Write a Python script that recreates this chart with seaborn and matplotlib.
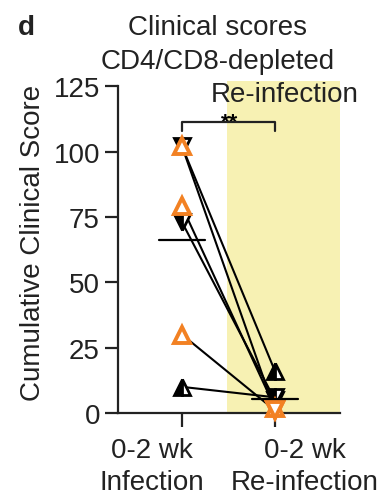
import matplotlib
matplotlib.use("Agg")
import matplotlib.pyplot as plt
import matplotlib.transforms as mtransforms
import numpy as np
import pandas as pd
import seaborn as sns

# ---- data ----
mice = ["m1", "m2", "m3", "m4", "m5", "m6"]
infection = [102, 102, 79, 73, 30, 10]
reinfection = [1, 16, 2, 5, 1, 6]
groups = ["orange", "black", "orange", "black", "orange", "black"]
phase_labels = ["0-2 wk\nInfection", "0-2 wk\nRe-infection"]
y_ticks = [0, 25, 50, 75, 100, 125]
title_lines = ["Clinical scores", "CD4/CD8-depleted"]
shade_label = "Re-infection"
sig_label = "**"
panel_letter = "d"
ylabel = "Cumulative Clinical Score"

# styles
inf_markers = ["^", "v", "^", "v", "^", "^"]
re_markers = ["v", "^", "^", "v", "v", "v"]
ORANGE = "#F28123"
YELLOW = "#F7F1B3"

sns.set_theme(style="ticks")
plt.rcParams["font.family"] = ["Liberation Sans", "DejaVu Sans"]
FS = 20

df = pd.DataFrame({
    "mouse": mice * 2,
    "pos": [0] * len(mice) + [1] * len(mice),
    "score": infection + reinfection,
})

fig = plt.figure(figsize=(3.81, 5.02), dpi=100)
ax = fig.add_axes([0.3097, 0.1753, 0.8924 - 0.3097, 0.8367 - 0.1753])

ax.axvspan(0.484, 1.699, color=YELLOW, zorder=0, lw=0)

sns.lineplot(data=df, x="pos", y="score", units="mouse", estimator=None,
             color="black", lw=1.5, ax=ax, legend=False, zorder=2)

for i in range(len(mice)):
    for pos, val, mk in ((0, infection[i], inf_markers[i]), (1, reinfection[i], re_markers[i])):
        if groups[i] == "orange":
            ax.plot(pos, val, marker=mk, ms=12, mfc="white", mec=ORANGE, mew=2.8,
                    ls="none", zorder=4, clip_on=False)
        else:
            ax.plot(pos, val, marker=mk, ms=12, mfc="black", mfcalt="white",
                    fillstyle="left", mec="black", mew=2.0, ls="none", zorder=3,
                    clip_on=False)

# mean lines
for pos, vals in ((0, infection), (1, reinfection)):
    m = np.mean(vals)
    ax.plot([pos - 0.25, pos + 0.25], [m, m], color="black", lw=1.6, zorder=5)

# significance bracket
ax.plot([0, 0, 1, 1], [107.8, 111.2, 111.2, 107.8], color="#222222", lw=1.6,
        clip_on=False, zorder=5)
ax.text(0.516, 109.3, sig_label, ha="center", va="baseline", fontsize=16,
        color="black", fontweight="bold")

ax.text(1.108, 119.3, shade_label, ha="center", va="baseline", fontsize=FS,
        color="#222222", clip_on=False)

ax.set_xlim(-0.688, 1.699)
ax.set_ylim(0, 127)
ax.set_yticks(y_ticks)
ax.set_yticklabels([str(t) for t in y_ticks], fontsize=FS, color="#222222")
ax.set_xticks([0, 1])
ax.set_xticklabels(phase_labels, fontsize=FS, color="#222222", linespacing=1.3)
ax.set_xlabel("")
ax.set_ylabel(ylabel, fontsize=FS, color="#222222")
ax.yaxis.set_label_coords(-0.325, 0.515)

ax.spines["top"].set_visible(False)
ax.spines["right"].set_visible(False)
ax.spines["left"].set_bounds(0, 125)
for s in ("left", "bottom"):
    ax.spines[s].set_linewidth(1.6)
    ax.spines[s].set_color("#222222")
ax.tick_params(axis="y", length=9.4, width=1.6, pad=3.6, color="#222222")
ax.tick_params(axis="x", length=10, width=1.6, pad=7, color="#222222")
ax.set_facecolor("white")

offsets = [-30 / 100, 30 / 100]
for lab, dx in zip(ax.get_xticklabels(), offsets):
    lab.set_transform(lab.get_transform() +
                      mtransforms.ScaledTranslation(dx, 0, fig.dpi_scale_trans))

fig.text(218 / 381, 1 - 35 / 502, title_lines[0], ha="center", va="baseline",
         fontsize=FS, color="#222222")
fig.text(218 / 381, 1 - 69 / 502, title_lines[1], ha="center", va="baseline",
         fontsize=FS, color="#222222")
fig.text(18 / 381, 1 - 35 / 502, panel_letter, ha="left", va="baseline",
         fontsize=FS, fontweight="bold", color="#222222")

fig.savefig("out.png", dpi=100, facecolor="white")
